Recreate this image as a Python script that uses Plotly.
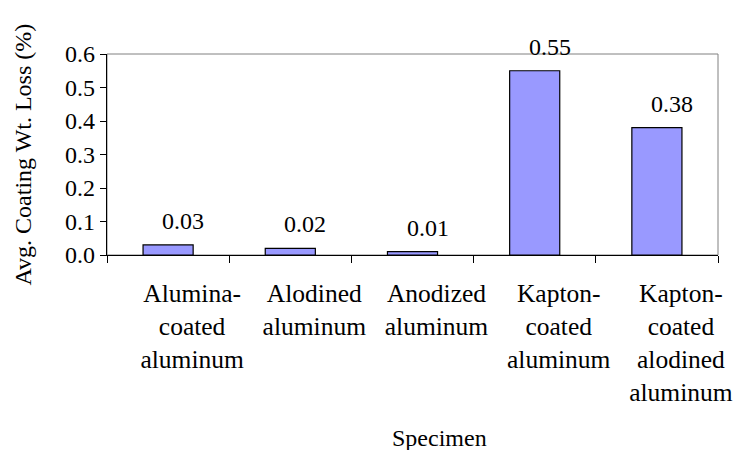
import plotly.graph_objects as go

# Specimen categories and average coating weight loss (%)
specimens = [
    "Alumina-<br>coated<br>aluminum",
    "Alodined<br>aluminum",
    "Anodized<br>aluminum",
    "Kapton-<br>coated<br>aluminum",
    "Kapton-<br>coated<br>alodined<br>aluminum",
]
weight_loss = [0.03, 0.02, 0.01, 0.55, 0.38]
y_ticks = [0.0, 0.1, 0.2, 0.3, 0.4, 0.5, 0.6]

SERIF = "Times New Roman, Liberation Serif, Tinos, DejaVu Serif, serif"

fig = go.Figure()
fig.add_trace(go.Bar(
    x=specimens,
    y=weight_loss,
    marker=dict(color="#9999FF", line=dict(color="black", width=1.2)),
    width=0.41,
    hoverinfo="skip",
))

# value labels above each bar
for name, val in zip(specimens, weight_loss):
    fig.add_annotation(
        x=name, y=val, xref="x", yref="y",
        text=f"{val:.2f}", showarrow=False,
        xanchor="center", yanchor="bottom",
        xshift=15, yshift=9,
        font=dict(family=SERIF, size=24, color="black"),
    )

# axis titles
fig.add_annotation(
    x=-0.1375, y=0.5, xref="paper", yref="paper",
    text="Avg. Coating Wt. Loss (%)", textangle=-90, showarrow=False,
    xanchor="center", yanchor="middle",
    font=dict(family=SERIF, size=24, color="black"),
)
fig.add_annotation(
    x=0.5437, y=-0.91, xref="paper", yref="paper",
    text="Specimen", showarrow=False,
    xanchor="center", yanchor="middle",
    font=dict(family=SERIF, size=24, color="black"),
)

# grey frame along top and right of plot area
fig.add_shape(type="rect", xref="paper", yref="paper", x0=0, y0=0, x1=1, y1=1,
              line=dict(color="#808080", width=1), layer="below")

fig.update_layout(
    width=744, height=450,
    margin=dict(l=107, r=19, t=54, b=195),
    paper_bgcolor="white", plot_bgcolor="white",
    showlegend=False,
    font=dict(family=SERIF, color="black"),
    xaxis=dict(
        type="category",
        tickson="boundaries",
        ticks="outside", ticklen=7, tickcolor="black", tickwidth=1,
        showline=True, linecolor="black", linewidth=1.2,
        showgrid=False,
        ticklabelshift=24, ticklabelstandoff=15,
        tickfont=dict(family=SERIF, size=25.5, color="black"),
    ),
    yaxis=dict(
        range=[0, 0.6],
        tickvals=y_ticks, tickformat=".1f",
        ticks="outside", ticklen=6, tickcolor="black", tickwidth=1,
        showline=True, linecolor="black", linewidth=1.2,
        showgrid=False, zeroline=False,
        tickfont=dict(family=SERIF, size=24, color="black"),
    ),
)

fig.write_html("out.html")
